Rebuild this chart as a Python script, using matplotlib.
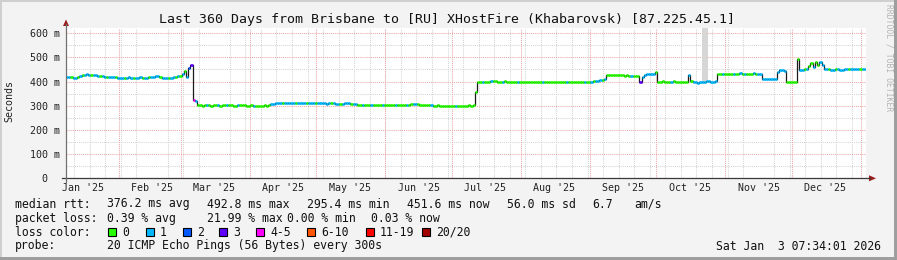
import datetime as dt
import matplotlib
matplotlib.use("Agg")
import matplotlib.pyplot as plt
import matplotlib.dates as mdates
from matplotlib.collections import LineCollection
from matplotlib.lines import Line2D
from matplotlib.patches import Rectangle

# ---------------- data ----------------
start = dt.datetime(2025, 1, 8, 7, 34, 1)
end = dt.datetime(2026, 1, 3, 7, 34, 1)

# daily median RTT (ms), one value per day from start
median_ms = [
    419, 418, 417, 416, 415, 417, 421, 425, 429, 431,
    428, 426, 426, 425, 424, 423, 422, 420, 419, 418,
    417, 418, 417, 416, 414, 414, 415, 416, 417, 415,
    413, 414, 416, 417, 416, 415, 415, 417, 420, 419,
    421, 421, 418, 415, 414, 414, 414, 416, 418, 418,
    422, 424, 430, 445, 420, 455, 470, 322, 320, 303,
    301, 300, 302, 303, 301, 300, 302, 304, 301, 300,
    302, 303, 304, 302, 301, 300, 299, 301, 302, 303,
    301, 300, 300, 302, 299, 298, 300, 297, 299, 301,
    300, 302, 306, 309, 311, 312, 311, 312, 313, 311,
    310, 312, 311, 313, 312, 313, 311, 312, 310, 311,
    312, 313, 312, 312, 311, 312, 310, 309, 310, 311,
    310, 308, 307, 307, 308, 310, 311, 311, 309, 308,
    306, 305, 305, 304, 304, 303, 304, 303, 302, 302,
    303, 302, 303, 303, 304, 304, 305, 304, 304, 303,
    304, 303, 303, 302, 304, 306, 307, 308, 307, 305,
    303, 302, 302, 301, 301, 299, 300, 301, 300, 300,
    299, 300, 298, 299, 298, 297, 298, 299, 298, 300,
    300, 301, 300, 301, 356, 399, 398, 397, 398, 399,
    400, 401, 403, 402, 399, 398, 399, 402, 400, 398,
    397, 398, 399, 399, 398, 397, 398, 399, 398, 396,
    396, 397, 398, 399, 397, 398, 399, 398, 397, 397,
    398, 399, 397, 396, 397, 398, 399, 400, 398, 396,
    396, 397, 398, 399, 397, 398, 399, 402, 404, 403,
    405, 408, 412, 426, 427, 428, 427, 428, 429, 426,
    425, 424, 425, 424, 423, 424, 422, 421, 400, 418,
    428, 430, 432, 433, 431, 440, 399, 400, 401, 398,
    397, 398, 400, 401, 399, 398, 397, 399, 400, 398,
    428, 402, 400, 396, 395, 397, 398, 400, 402, 401,
    400, 399, 402, 432, 431, 430, 431, 432, 433, 431,
    430, 431, 432, 434, 433, 432, 431, 432, 433, 434,
    432, 431, 430, 412, 411, 410, 409, 410, 411, 412,
    440, 446, 447, 445, 400, 399, 400, 399, 400, 495,
    448, 449, 450, 451, 465, 478, 458, 480, 468, 482,
    470, 452, 451, 450, 449, 448, 450, 451, 449, 448,
    450, 451, 452, 451, 450, 451, 452, 451, 450, 451,
]
# daily lost pings bucket (index into loss colours)
loss_bucket = [
    1, 1, 0, 1, 1, 0, 1, 0, 1, 1,
    1, 0, 1, 1, 1, 0, 1, 1, 0, 1,
    1, 1, 0, 1, 1, 1, 0, 1, 1, 1,
    0, 1, 1, 1, 0, 1, 1, 0, 1, 1,
    1, 1, 0, 1, 1, 1, 0, 1, 1, 0,
    1, 0, 1, 0, 1, 2, 3, 4, 1, 0,
    0, 0, 0, 1, 0, 0, 0, 0, 1, 0,
    0, 0, 1, 0, 0, 0, 0, 1, 0, 0,
    0, 0, 0, 0, 1, 0, 0, 0, 0, 0,
    0, 0, 1, 1, 1, 1, 1, 0, 1, 1,
    1, 1, 1, 0, 1, 1, 1, 1, 0, 1,
    1, 1, 0, 1, 1, 1, 1, 1, 1, 0,
    1, 1, 1, 0, 1, 1, 1, 1, 0, 1,
    1, 0, 0, 1, 0, 0, 0, 1, 0, 0,
    0, 0, 1, 0, 0, 0, 0, 0, 1, 0,
    0, 0, 0, 1, 0, 0, 1, 1, 0, 0,
    0, 0, 0, 0, 1, 0, 0, 0, 0, 0,
    0, 0, 0, 0, 0, 1, 0, 0, 0, 0,
    0, 0, 0, 0, 0, 0, 0, 1, 0, 0,
    0, 1, 0, 0, 0, 0, 1, 0, 0, 0,
    0, 0, 0, 1, 0, 0, 0, 0, 0, 0,
    0, 0, 0, 0, 1, 0, 0, 0, 0, 0,
    0, 0, 0, 0, 0, 1, 0, 0, 0, 0,
    0, 0, 0, 1, 0, 0, 1, 0, 1, 1,
    1, 0, 1, 0, 0, 0, 0, 0, 0, 0,
    0, 0, 0, 0, 1, 0, 0, 0, 3, 1,
    1, 1, 1, 1, 1, 0, 0, 0, 0, 0,
    0, 0, 1, 0, 0, 0, 0, 0, 0, 0,
    1, 0, 1, 1, 1, 1, 1, 1, 1, 1,
    1, 1, 1, 0, 0, 1, 0, 0, 0, 0,
    1, 0, 0, 1, 0, 1, 0, 0, 0, 1,
    0, 1, 1, 1, 1, 1, 1, 1, 1, 1,
    1, 1, 1, 1, 0, 0, 0, 0, 0, 0,
    1, 1, 0, 1, 0, 0, 1, 0, 0, 1,
    1, 1, 1, 0, 1, 1, 0, 1, 1, 1,
    1, 1, 0, 1, 1, 1, 1, 0, 1, 1,
]
# period with wide smoke reaching the top of the graph (day offsets)
smoke_days = [286.2, 289.0]
smoke_low_ms = [400, 400]
smoke_top_ms = [620, 620]

loss_labels = ["0", "1", "2", "3", "4-5", "6-10", "11-19", "20/20"]
loss_colors = ["#26ff00", "#00b8ff", "#0059ff", "#5e00ff", "#ff00ff", "#ff5500", "#ff0000", "#a10000"]

title = "Last 360 Days from Brisbane to [RU] XHostFire (Khabarovsk) [87.225.45.1]"
rtt_items = ["median rtt:", "376.2 ms avg", "492.8 ms max", "295.4 ms min", "451.6 ms now",
             "56.0 ms sd", "6.7", "am/s"]
loss_items = ["packet loss:", "0.39 % avg", "21.99 % max", "0.00 % min", "0.03 % now"]
probe_items = ["probe:", "20 ICMP Echo Pings (56 Bytes) every 300s"]
stamp = "Sat Jan  3 07:34:01 2026"

# ---------------- figure ----------------
W, H = 897, 260
fig = plt.figure(figsize=(W / 100, H / 100), dpi=100)
fig.patch.set_facecolor("#f3f3f3")

def fx(px):
    return px / W

def fy(py):
    return 1 - py / H

# border shading
fig.add_artist(Rectangle((0, fy(2)), 1, 2 / H, transform=fig.transFigure, color="#cfcfcf", lw=0))
fig.add_artist(Rectangle((0, 0), 2 / W, 1, transform=fig.transFigure, color="#cfcfcf", lw=0))
fig.add_artist(Rectangle((0, 0), 1, 3 / H, transform=fig.transFigure, color="#9e9e9e", lw=0))
fig.add_artist(Rectangle((1 - 3 / W, 0), 3 / W, 1, transform=fig.transFigure, color="#9e9e9e", lw=0))

left_px, bottom_px, width_px, height_px = 66, 178.3, 800, 150
ax = fig.add_axes([fx(left_px), fy(bottom_px), width_px / W, height_px / H])
ax.set_facecolor("white")

mono = "DejaVu Sans Mono"

dates = [start + dt.timedelta(days=i) for i in range(len(median_ms))]
ends = dates[1:] + [end]
x0 = mdates.date2num(start)
x1 = mdates.date2num(end)
ax.set_xlim(x0, x1)
ax.set_ylim(0, 620)

# smoke
sd = [start + dt.timedelta(days=d) for d in smoke_days]
ax.fill_between(sd, smoke_low_ms, smoke_top_ms, color="#d6d6d6", lw=0, zorder=2)

# dark step line underneath
ax.plot(dates + [end], median_ms + [median_ms[-1]], drawstyle="steps-post", color="#1a1a1a",
        lw=0.9, zorder=3)

# coloured median segments
segs = []
cols = []
for d0, d1, v, l in zip(dates, ends, median_ms, loss_bucket):
    segs.append([(mdates.date2num(d0), v), (mdates.date2num(d1), v)])
    cols.append(loss_colors[l])
lc = LineCollection(segs, colors=cols, linewidths=1.9, zorder=4, capstyle="butt")
ax.add_collection(lc)

# grids
grid_minor = "#d4d4d4"
grid_major = "#eda6a6"
dash = (0, (1, 1))
ax.xaxis.set_minor_locator(mdates.WeekdayLocator(byweekday=mdates.SU))
ax.xaxis.set_major_locator(mdates.MonthLocator(bymonthday=16))
ax.xaxis.set_major_formatter(mdates.DateFormatter("%b '%y"))
ax.grid(False)
ax.grid(True, which="minor", axis="x", color=grid_minor, ls=dash, lw=0.75)
for m in mdates.MonthLocator(bymonthday=1).tick_values(start, end):
    if x0 < m < x1:
        ax.axvline(m, color=grid_major, ls=dash, lw=0.75, zorder=1)

ax.set_yticks(range(0, 601, 100))
ax.set_yticks(range(50, 601, 100), minor=True)
ax.yaxis.set_major_formatter(lambda v, p: "0  " if v == 0 else f"{v:.0f} m")
ax.grid(True, which="minor", axis="y", color=grid_minor, ls=dash, lw=0.75)
ax.grid(True, which="major", axis="y", color=grid_major, ls=dash, lw=0.75)
ax.set_axisbelow(True)

ax.tick_params(axis="both", which="both", length=0)
ax.tick_params(axis="y", pad=4.2, labelsize=7.2, labelcolor="#222222")
ax.tick_params(axis="x", pad=3.5, labelsize=7.2, labelcolor="#222222")
for lbl in ax.get_xticklabels() + ax.get_yticklabels():
    lbl.set_fontfamily(mono)

for s in ax.spines.values():
    s.set_visible(False)

# axes with arrows
axis_col = "#3a3a3a"
arrow_col = "#9a1c1c"
fig.add_artist(Line2D([fx(62), fx(870)], [fy(178.3), fy(178.3)], transform=fig.transFigure,
                      color=axis_col, lw=0.9))
fig.add_artist(Line2D([fx(66), fx(66)], [fy(182), fy(24)], transform=fig.transFigure,
                      color="#707070", lw=0.9))
fig.add_artist(plt.Polygon([(fx(869), fy(175.3)), (fx(876), fy(178.3)), (fx(869), fy(181.3))],
                           closed=True, transform=fig.transFigure, color=arrow_col, lw=0))
fig.add_artist(plt.Polygon([(fx(63), fy(26)), (fx(66), fy(19.5)), (fx(69), fy(26))],
                           closed=True, transform=fig.transFigure, color=arrow_col, lw=0))

# title and labels
fig.text(fx(446.5), fy(19.3), title, family=mono, fontsize=9.5, ha="center", va="center",
         color="#111111")
fig.text(fx(9.8), fy(100.5), "Seconds", family=mono, fontsize=7.2, rotation=90,
         ha="center", va="center", color="#222222")
fig.text(fx(888.5), fy(4), "RRDTOOL / TOBI OETIKER", family=mono, fontsize=5.8, rotation=270,
         ha="center", va="top", color="#b4b4b4")

# legend
def put(x, y, s, ha="left"):
    fig.text(fx(x - 0.7), fy(y), s, family=mono, fontsize=8.3, ha=ha, va="center",
             color="#111111")

for x, s in zip([16, 107.3, 207.3, 307.3, 407.3, 507.3, 593.3, 635.3], rtt_items):
    put(x, 204, s)
for x, s in zip([16, 107.3, 207.3, 287.3, 371.7], loss_items):
    put(x, 218.3, s)
put(16, 232.3, "loss color:")
for x, s in zip([16, 107.3], probe_items):
    put(x, 246, s)
fig.text(fx(880.5), fy(246), stamp, family=mono, fontsize=8.3, ha="right", va="center",
         color="#111111")

box_x = [108.3, 145.7, 182.7, 219.3, 256.3, 306.7, 365.7, 421.7]
for bx, lab, col in zip(box_x, loss_labels, loss_colors):
    fig.add_artist(Rectangle((fx(bx), fy(236.3)), 8 / W, 8 / H, transform=fig.transFigure,
                             facecolor=col, edgecolor="black", lw=0.8))
    put(bx + 15, 232.3, lab)

fig.savefig("out.png", dpi=100, facecolor=fig.get_facecolor())
